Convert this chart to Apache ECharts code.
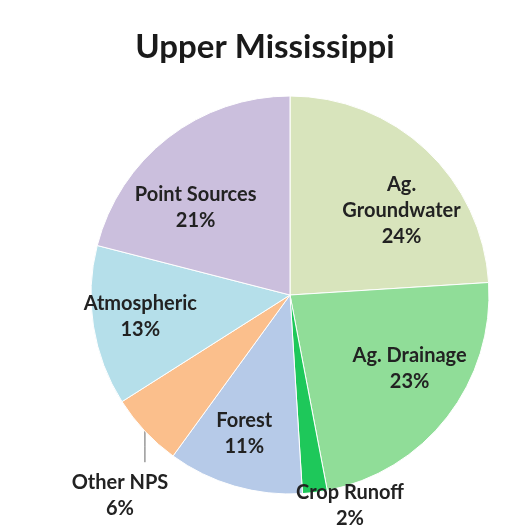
<!DOCTYPE html>
<html>
<head>
<meta charset="utf-8">
<script src="https://cdn.jsdelivr.net/npm/echarts@6/dist/echarts.min.js"></script>
<style>
html,body{margin:0;padding:0;background:#fff;}
#chart{width:530px;height:531px;}
</style>
</head>
<body>
<div id="chart"></div>
<script>
const titleText = 'Upper Mississippi';
const categories = ['Ag.\nGroundwater', 'Ag. Drainage', 'Crop Runoff', 'Forest', 'Other NPS', 'Atmospheric', 'Point Sources'];
const values = [24, 23, 2, 11, 6, 13, 21];
const colors = ['#d8e4bc', '#90dd98', '#1ec85a', '#b6cae8', '#fbbf8c', '#b5dfea', '#cbbfdd'];
const outsideLabels = ['Crop Runoff', 'Other NPS'];
// small per-label nudges (px) relative to the library's computed position
const labelNudge = {
  'Ag.\nGroundwater': [14, 19],
  'Ag. Drainage': [7, -14],
  'Forest': [-6, 2],
  'Atmospheric': [-9, -1],
  'Point Sources': [-7, 25],
  'Crop Runoff': [0, 13],
  'Other NPS': [-25, 64]
};

const font = 'Lato, "Open Sans", sans-serif';
const chart = echarts.init(document.getElementById('chart'), null, {renderer: 'canvas'});

const labelStyle = {
  formatter: p => p.name + '\n' + p.value + '%',
  fontFamily: font, fontSize: 20, fontWeight: 'bold', color: '#222',
  lineHeight: 26, align: 'center'
};

const mainData = categories.map((c, i) => ({
  name: c, value: values[i],
  itemStyle: {color: colors[i]},
  label: {show: outsideLabels.includes(c), width: 110, overflow: 'none'},
  labelLine: {show: c === 'Other NPS'}
}));
const overlayData = categories.map((c, i) => ({
  name: c, value: values[i],
  label: {show: !outsideLabels.includes(c)}
}));

chart.setOption({
  animation: false,
  backgroundColor: '#ffffff',
  title: {
    text: titleText,
    left: 'center',
    top: 26,
    textStyle: {fontFamily: font, fontSize: 33, fontWeight: 'bold', color: '#1a1a1a'}
  },
  series: [
    {
      type: 'pie',
      center: [290, 295],
      radius: [0, 199],
      startAngle: 90,
      clockwise: true,
      data: mainData,
      itemStyle: {borderColor: '#ffffff', borderWidth: 1},
      label: Object.assign({position: 'outside'}, labelStyle),
      labelLine: {length: 0, length2: 30, minTurnAngle: 0, lineStyle: {color: '#666', width: 1}},
      labelLayout: function (params) {
        const name = categories[params.dataIndex];
        const n = labelNudge[name] || [0, 0];
        if (name === 'Other NPS' && params.labelLinePoints) {
          const p = params.labelLinePoints[0];
          return {
            x: p[0] + n[0], y: p[1] + n[1], align: 'center', verticalAlign: 'middle',
            labelLinePoints: [[p[0], p[1]], [p[0], p[1] + 15], [p[0], p[1] + 31]]
          };
        }
        return {dx: n[0], dy: n[1], align: 'center'};
      },
      emphasis: {disabled: true}
    },
    {
      type: 'pie',
      center: [290, 295],
      radius: [80, 199],
      startAngle: 90,
      clockwise: true,
      silent: true,
      data: overlayData,
      itemStyle: {color: 'rgba(0,0,0,0)', borderWidth: 0},
      label: Object.assign({position: 'inside'}, labelStyle),
      labelLine: {show: false},
      labelLayout: function (params) {
        const n = labelNudge[categories[params.dataIndex]] || [0, 0];
        return {dx: n[0], dy: n[1]};
      },
      emphasis: {disabled: true}
    }
  ]
});
</script>
</body>
</html>
